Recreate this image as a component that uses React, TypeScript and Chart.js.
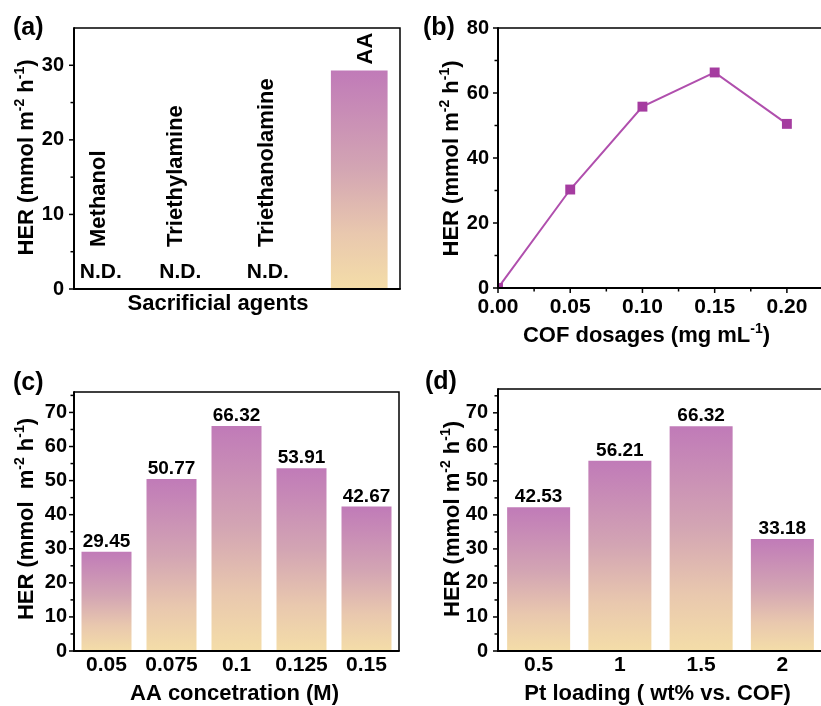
import React, { useEffect, useRef } from 'react';
import { Chart, registerables } from 'chart.js';

Chart.register(...registerables);

const FONT = '"Liberation Sans", Arial, Helvetica, sans-serif';

// ---------------- data ----------------
// (a) sacrificial agents
const agentNames = ['Methanol', 'Triethylamine', 'Triethanolamine', 'AA'];
const agentHER: (number | null)[] = [null, null, null, 29.45];
const agentNotes = ['N.D.', 'N.D.', 'N.D.', ''];
const agentYTicks = [0, 10, 20, 30];

// (b) COF dosage
const cofDosages = [0, 0.05, 0.1, 0.15, 0.2];
const cofHER = [0, 30.3, 55.8, 66.32, 50.5];
const cofYTicks = [0, 20, 40, 60, 80];
const cofXTicks = [0, 0.05, 0.1, 0.15, 0.2];

// (c) AA concentration
const aaConc = ['0.05', '0.075', '0.1', '0.125', '0.15'];
const aaHER = [29.45, 50.77, 66.32, 53.91, 42.67];

// (d) Pt loading
const ptLoading = ['0.5', '1', '1.5', '2'];
const ptHER = [42.53, 56.21, 66.32, 33.18];

const herYTicks = [0, 10, 20, 30, 40, 50, 60, 70];

// ---------------- styles ----------------
const nameDx = [-16, -20, -11, 7];
const noteDx = [-14, -16, -10, 0];
const LINE = '#B04FAD';
const MARK = '#A53CA0';
const BAR_EDGE = 'rgba(255,255,255,0.75)';

type Seg = { t: string; sup?: boolean };
const herTitle: Seg[] = [{ t: 'HER (mmol m' }, { t: '-2', sup: true }, { t: ' h' }, { t: '-1', sup: true }, { t: ')' }];
const herTitleC: Seg[] = [{ t: 'HER (mmol  m' }, { t: '-2', sup: true }, { t: ' h' }, { t: '-1', sup: true }, { t: ')' }];
const cofTitle: Seg[] = [{ t: 'COF dosages (mg mL' }, { t: '-1', sup: true }, { t: ')' }];

function minorsOf(majors: number[], max: number) {
  const step = majors[1] - majors[0];
  return majors.map((v) => v + step / 2).filter((v) => v < max - 1e-9);
}

function barGradient(ctx: any) {
  const chart = ctx.chart;
  if (ctx.type !== 'data') return '#D8AEB2';
  const v = ctx.raw;
  if (v == null) return 'rgba(0,0,0,0)';
  const ys = chart.scales && chart.scales.y;
  if (!ys || !chart.chartArea) return '#D8AEB2';
  const top = ys.getPixelForValue(v);
  const bottom = ys.getPixelForValue(0);
  const g = chart.ctx.createLinearGradient(0, top, 0, bottom);
  g.addColorStop(0, '#C07AB8');
  g.addColorStop(0.45, '#D3A5B3');
  g.addColorStop(0.75, '#E9C8AE');
  g.addColorStop(1, '#F4DDA8');
  return g;
}

function drawSegs(ctx: CanvasRenderingContext2D, segs: Seg[], x: number, y: number, size: number, center = true) {
  const main = `bold ${size}px ${FONT}`;
  const sup = `bold ${Math.round(size * 0.62)}px ${FONT}`;
  let w = 0;
  for (const s of segs) {
    ctx.font = s.sup ? sup : main;
    w += ctx.measureText(s.t).width;
  }
  let cx = center ? x - w / 2 : x;
  ctx.textAlign = 'left';
  ctx.textBaseline = 'alphabetic';
  for (const s of segs) {
    ctx.font = s.sup ? sup : main;
    ctx.fillText(s.t, cx, s.sup ? y - size * 0.4 : y);
    cx += ctx.measureText(s.t).width;
  }
}

type DecorOpts = {
  letter: string;
  letterPos: [number, number];
  yTitle: Seg[];
  yTitlePos: [number, number];
  xTitle: Seg[];
  xTitleDx: number;
  xTitleBase: number;
  yMajor: number[];
  yMinor: number[];
  xMajor?: number[];
  xMinor?: number[];
  values?: number[];
  extra?: (chart: any) => void;
};

function decor(o: DecorOpts) {
  return {
    id: 'decor',
    afterDraw(chart: any) {
      const ctx: CanvasRenderingContext2D = chart.ctx;
      const a = chart.chartArea;
      const ys = chart.scales.y;
      const xs = chart.scales.x;
      ctx.save();
      ctx.fillStyle = '#000';
      ctx.strokeStyle = '#000';
      ctx.lineCap = 'butt';

      // value labels
      if (o.values) {
        const meta = chart.getDatasetMeta(0);
        ctx.font = `bold 19px ${FONT}`;
        ctx.textAlign = 'center';
        ctx.textBaseline = 'alphabetic';
        meta.data.forEach((el: any, i: number) => {
          ctx.fillText(o.values![i].toFixed(2), el.x, el.y - 4);
        });
      }
      if (o.extra) o.extra(chart);

      // frame
      ctx.lineWidth = 1.5;
      ctx.beginPath();
      ctx.moveTo(a.left, a.top);
      ctx.lineTo(a.right, a.top);
      ctx.lineTo(a.right, a.bottom);
      ctx.stroke();
      ctx.lineWidth = 2;
      ctx.beginPath();
      ctx.moveTo(a.left, a.top - 0.75);
      ctx.lineTo(a.left, a.bottom);
      ctx.lineTo(a.right + 0.75, a.bottom);
      ctx.stroke();

      // ticks
      ctx.lineWidth = 1.5;
      const tick = (x1: number, y1: number, x2: number, y2: number) => {
        ctx.beginPath();
        ctx.moveTo(x1, y1);
        ctx.lineTo(x2, y2);
        ctx.stroke();
      };
      o.yMajor.forEach((v) => {
        const p = ys.getPixelForValue(v);
        tick(a.left - 5, p, a.left, p);
      });
      o.yMinor.forEach((v) => {
        const p = ys.getPixelForValue(v);
        tick(a.left - 3.5, p, a.left, p);
      });
      (o.xMajor || []).forEach((v) => {
        const p = xs.getPixelForValue(v);
        tick(p, a.bottom, p, a.bottom + 5);
      });
      (o.xMinor || []).forEach((v) => {
        const p = xs.getPixelForValue(v);
        tick(p, a.bottom, p, a.bottom + 3.5);
      });

      // titles
      drawSegs(ctx, o.xTitle, (a.left + a.right) / 2 + o.xTitleDx, a.bottom + o.xTitleBase, 22);
      ctx.save();
      ctx.translate(o.yTitlePos[0], o.yTitlePos[1]);
      ctx.rotate(-Math.PI / 2);
      drawSegs(ctx, o.yTitle, 0, 0, 22);
      ctx.restore();

      // panel letter
      ctx.font = `bold 25px ${FONT}`;
      ctx.textAlign = 'left';
      ctx.textBaseline = 'alphabetic';
      ctx.fillText(o.letter, o.letterPos[0], o.letterPos[1]);
      ctx.restore();
    },
  };
}

const tickFont = (size: number) => ({ size, weight: 'bold' as const, family: FONT });
const noGrid = { display: false, drawTicks: false };
const noBorder = { display: false };
const common = {
  animation: false as const,
  responsive: false,
  devicePixelRatio: 1,
  plugins: { legend: { display: false }, tooltip: { enabled: false } },
};

function yScale(max: number, step: number, pad: number, width: number) {
  return {
    type: 'linear' as const,
    min: 0,
    max,
    grid: noGrid,
    border: noBorder,
    ticks: { stepSize: step, includeBounds: false, padding: pad, color: '#000', font: tickFont(20) },
    afterFit: (s: any) => {
      s.width = width;
    },
  };
}

function categoryX(height: number, show: boolean, pad: number) {
  return {
    type: 'category' as const,
    grid: noGrid,
    border: noBorder,
    ticks: { display: show, padding: pad, color: '#000', font: tickFont(21), maxRotation: 0, autoSkip: false },
    afterFit: (s: any) => {
      s.height = height;
    },
  };
}

export default function App() {
  const refA = useRef<HTMLCanvasElement>(null);
  const refB = useRef<HTMLCanvasElement>(null);
  const refC = useRef<HTMLCanvasElement>(null);
  const refD = useRef<HTMLCanvasElement>(null);

  useEffect(() => {
    Chart.defaults.font.family = FONT;
    Chart.defaults.color = '#000';
    const charts: Chart[] = [];

    // ---------- (a) ----------
    charts.push(
      new Chart(refA.current!, {
        type: 'bar',
        data: {
          labels: agentNames,
          datasets: [
            {
              data: agentHER as any,
              backgroundColor: barGradient as any,
              borderColor: BAR_EDGE,
              borderWidth: 1,
              barPercentage: 0.72,
              categoryPercentage: 1,
            },
          ],
        },
        options: {
          ...common,
          layout: { padding: { left: 0, top: 28, right: 10, bottom: 0 } },
          scales: {
            x: categoryX(61, false, 0),
            y: yScale(35, 10, 10, 74),
          },
        } as any,
        plugins: [
          decor({
            letter: '(a)',
            letterPos: [13, 35],
            yTitle: herTitle,
            yTitlePos: [33, 157.5],
            xTitle: [{ t: 'Sacrificial agents' }],
            xTitleDx: -19,
            xTitleBase: 21,
            yMajor: agentYTicks,
            yMinor: minorsOf(agentYTicks, 35),
            extra: (chart: any) => {
              const ctx: CanvasRenderingContext2D = chart.ctx;
              const xs = chart.scales.x;
              const ys = chart.scales.y;
              const a = chart.chartArea;
              agentNames.forEach((name, i) => {
                const cx = xs.getPixelForValue(i) + nameDx[i];
                const v = agentHER[i];
                const startY = v == null ? a.bottom - 42 : ys.getPixelForValue(v) - 5;
                ctx.save();
                ctx.translate(cx, startY);
                ctx.rotate(-Math.PI / 2);
                ctx.font = `bold 22px ${FONT}`;
                ctx.textAlign = 'left';
                ctx.textBaseline = 'middle';
                ctx.fillText(name, 0, 0);
                ctx.restore();
                if (agentNotes[i]) {
                  ctx.font = `bold 21px ${FONT}`;
                  ctx.textAlign = 'center';
                  ctx.textBaseline = 'alphabetic';
                  ctx.fillText(agentNotes[i], xs.getPixelForValue(i) + noteDx[i], a.bottom - 11);
                }
              });
            },
          }),
        ],
      })
    );

    // ---------- (b) ----------
    charts.push(
      new Chart(refB.current!, {
        type: 'line',
        data: {
          datasets: [
            {
              data: cofDosages.map((x, i) => ({ x, y: cofHER[i] })),
              borderColor: LINE,
              borderWidth: 2,
              pointStyle: 'rect',
              pointRadius: 7,
              pointBackgroundColor: MARK,
              pointBorderColor: MARK,
              pointBorderWidth: 0,
              tension: 0,
            },
          ],
        },
        options: {
          ...common,
          layout: { padding: { left: 0, top: 28, right: 6, bottom: 0 } },
          scales: {
            x: {
              type: 'linear',
              min: 0,
              max: 0.225,
              grid: noGrid,
              border: noBorder,
              ticks: {
                stepSize: 0.05,
                includeBounds: false,
                padding: 7,
                color: '#000',
                font: tickFont(21),
                maxRotation: 0,
                callback: (v: any) => Number(v).toFixed(2),
              },
              afterFit: (s: any) => {
                s.height = 62;
              },
            },
            y: yScale(80, 20, 9, 88),
          },
        } as any,
        plugins: [
          decor({
            letter: '(b)',
            letterPos: [13, 35],
            yTitle: herTitle,
            yTitlePos: [48, 158.5],
            xTitle: cofTitle,
            xTitleDx: -14,
            xTitleBase: 54,
            yMajor: cofYTicks,
            yMinor: minorsOf(cofYTicks, 80),
            xMajor: cofXTicks,
            xMinor: minorsOf(cofXTicks, 0.22),
          }),
        ],
      })
    );

    // ---------- (c) ----------
    charts.push(
      new Chart(refC.current!, {
        type: 'bar',
        data: {
          labels: aaConc,
          datasets: [
            {
              data: aaHER,
              backgroundColor: barGradient as any,
              borderColor: BAR_EDGE,
              borderWidth: 1,
              barPercentage: 0.8,
              categoryPercentage: 1,
            },
          ],
        },
        options: {
          ...common,
          layout: { padding: { left: 0, top: 37, right: 11, bottom: 0 } },
          scales: {
            x: categoryX(55, true, 2),
            y: yScale(76, 10, 7, 74),
          },
        } as any,
        plugins: [
          decor({
            letter: '(c)',
            letterPos: [13, 35],
            yTitle: herTitleC,
            yTitlePos: [33, 164],
            xTitle: [{ t: 'AA concetration (M)' }],
            xTitleDx: -2,
            xTitleBase: 49,
            yMajor: herYTicks,
            yMinor: minorsOf(herYTicks, 76),
            values: aaHER,
          }),
        ],
      })
    );

    // ---------- (d) ----------
    charts.push(
      new Chart(refD.current!, {
        type: 'bar',
        data: {
          labels: ptLoading,
          datasets: [
            {
              data: ptHER,
              backgroundColor: barGradient as any,
              borderColor: BAR_EDGE,
              borderWidth: 1,
              barPercentage: 0.8,
              categoryPercentage: 1,
            },
          ],
        },
        options: {
          ...common,
          layout: { padding: { left: 0, top: 34, right: 7, bottom: 0 } },
          scales: {
            x: categoryX(55, true, 2),
            y: yScale(77, 10, 10, 88),
          },
        } as any,
        plugins: [
          decor({
            letter: '(d)',
            letterPos: [15, 34],
            yTitle: herTitle,
            yTitlePos: [49, 164],
            xTitle: [{ t: 'Pt loading ( wt% vs. COF)' }],
            xTitleDx: -3,
            xTitleBase: 49,
            yMajor: herYTicks,
            yMinor: minorsOf(herYTicks, 77),
            values: ptHER,
          }),
        ],
      })
    );

    return () => charts.forEach((c) => c.destroy());
  }, []);

  const cv = (left: number, top: number, w: number, h: number): React.CSSProperties => ({
    position: 'absolute',
    left,
    top,
    width: w,
    height: h,
  });

  return (
    <div
      style={{
        position: 'absolute',
        left: 0,
        top: 0,
        width: 821,
        height: 706,
        overflow: 'hidden',
        background: '#fff',
      }}
    >
      <canvas ref={refA} width={410} height={350} style={cv(0, 0, 410, 350)} />
      <canvas ref={refB} width={420} height={350} style={cv(410, 0, 420, 350)} />
      <canvas ref={refC} width={410} height={351} style={cv(0, 355, 410, 351)} />
      <canvas ref={refD} width={420} height={351} style={cv(410, 355, 420, 351)} />
    </div>
  );
}
